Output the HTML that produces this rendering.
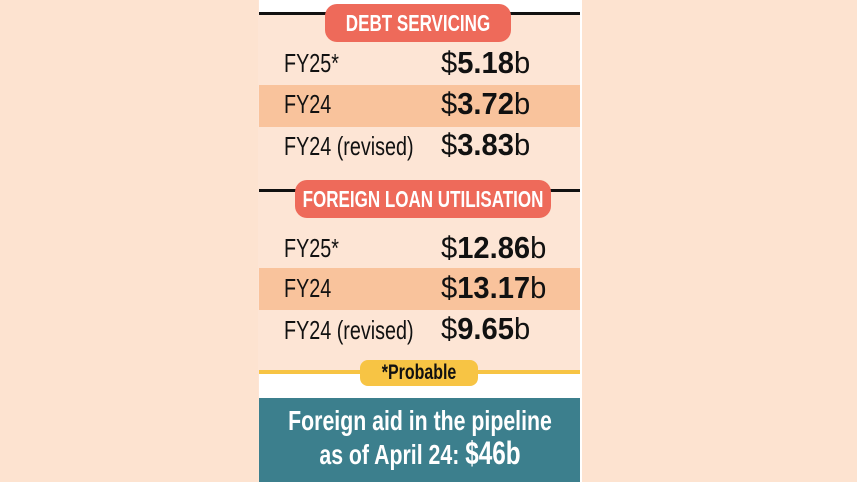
<!DOCTYPE html>
<html><head><style>
body{margin:0;width:857px;height:482px;background:#fde3d0;position:relative;overflow:hidden;font-family:"Liberation Sans",sans-serif}
.a{position:absolute}
.panel{left:258px;top:0;width:322px;height:482px;background:#fde5d5;border-right:2px solid #fff}
.line{height:3px;background:#111;left:259px;width:321px}
.tab{background:#ee6a5a;color:#fff;font-weight:bold;border-radius:12px;font-size:23px;white-space:nowrap}
.c{position:absolute;left:50%;top:0;transform:translateX(-50%) scaleX(.74);white-space:nowrap}
.row{left:259px;width:321px;height:42px;background:#f9c39c}
.lab{left:284px;font-size:26px;color:#111;transform:scaleX(.76);transform-origin:left;white-space:nowrap}
.val{left:441px;font-size:31px;color:#111;white-space:nowrap;transform:scaleX(.94);transform-origin:left}
.val b{font-weight:bold}
</style></head><body>
<div class="a panel"></div>
<div class="a" style="left:259px;top:0;width:321px;height:12px;background:#fff"></div>
<div class="a line" style="top:12px"></div>
<div class="a tab" style="left:325px;top:4px;width:186px;height:38px;line-height:38px"><span class="c">DEBT SERVICING</span></div>
<div class="a lab" style="top:48px">FY25*</div>
<div class="a val" style="top:45px">$<b>5.18</b>b</div>
<div class="a row" style="top:85px"></div>
<div class="a lab" style="top:89px">FY24</div>
<div class="a val" style="top:86px">$<b>3.72</b>b</div>
<div class="a lab" style="top:131px">FY24 (revised)</div>
<div class="a val" style="top:127px">$<b>3.83</b>b</div>
<div class="a line" style="top:189px"></div>
<div class="a tab" style="left:295px;top:180px;width:256px;height:38px;line-height:38px"><span class="c">FOREIGN LOAN UTILISATION</span></div>
<div class="a lab" style="top:233px">FY25*</div>
<div class="a val" style="top:230px">$<b>12.86</b>b</div>
<div class="a row" style="top:268px"></div>
<div class="a lab" style="top:273px">FY24</div>
<div class="a val" style="top:270px">$<b>13.17</b>b</div>
<div class="a lab" style="top:315px">FY24 (revised)</div>
<div class="a val" style="top:311px">$<b>9.65</b>b</div>
<div class="a" style="left:259px;top:373px;width:321px;height:25px;background:#fff"></div>
<div class="a" style="left:259px;top:370px;width:321px;height:4px;background:#f7c444"></div>
<div class="a" style="left:360px;top:360px;width:118px;height:26px;background:#f7c444;border-radius:8px;font-weight:bold;font-size:21px;line-height:26px;color:#111"><span class="c" style="transform:translateX(-50%) scaleX(.76)">*Probable</span></div>
<div class="a" style="left:259px;top:398px;width:321px;height:84px;background:#3c7f8d;color:#fff;font-weight:bold;text-align:center;font-size:28px;line-height:33px">
<div class="c" style="top:6px;transform:translateX(-50%) scaleX(.76)">Foreign aid in the pipeline<br>as of April 24: <span style="font-size:32px">$46b</span></div></div>
</body></html>
